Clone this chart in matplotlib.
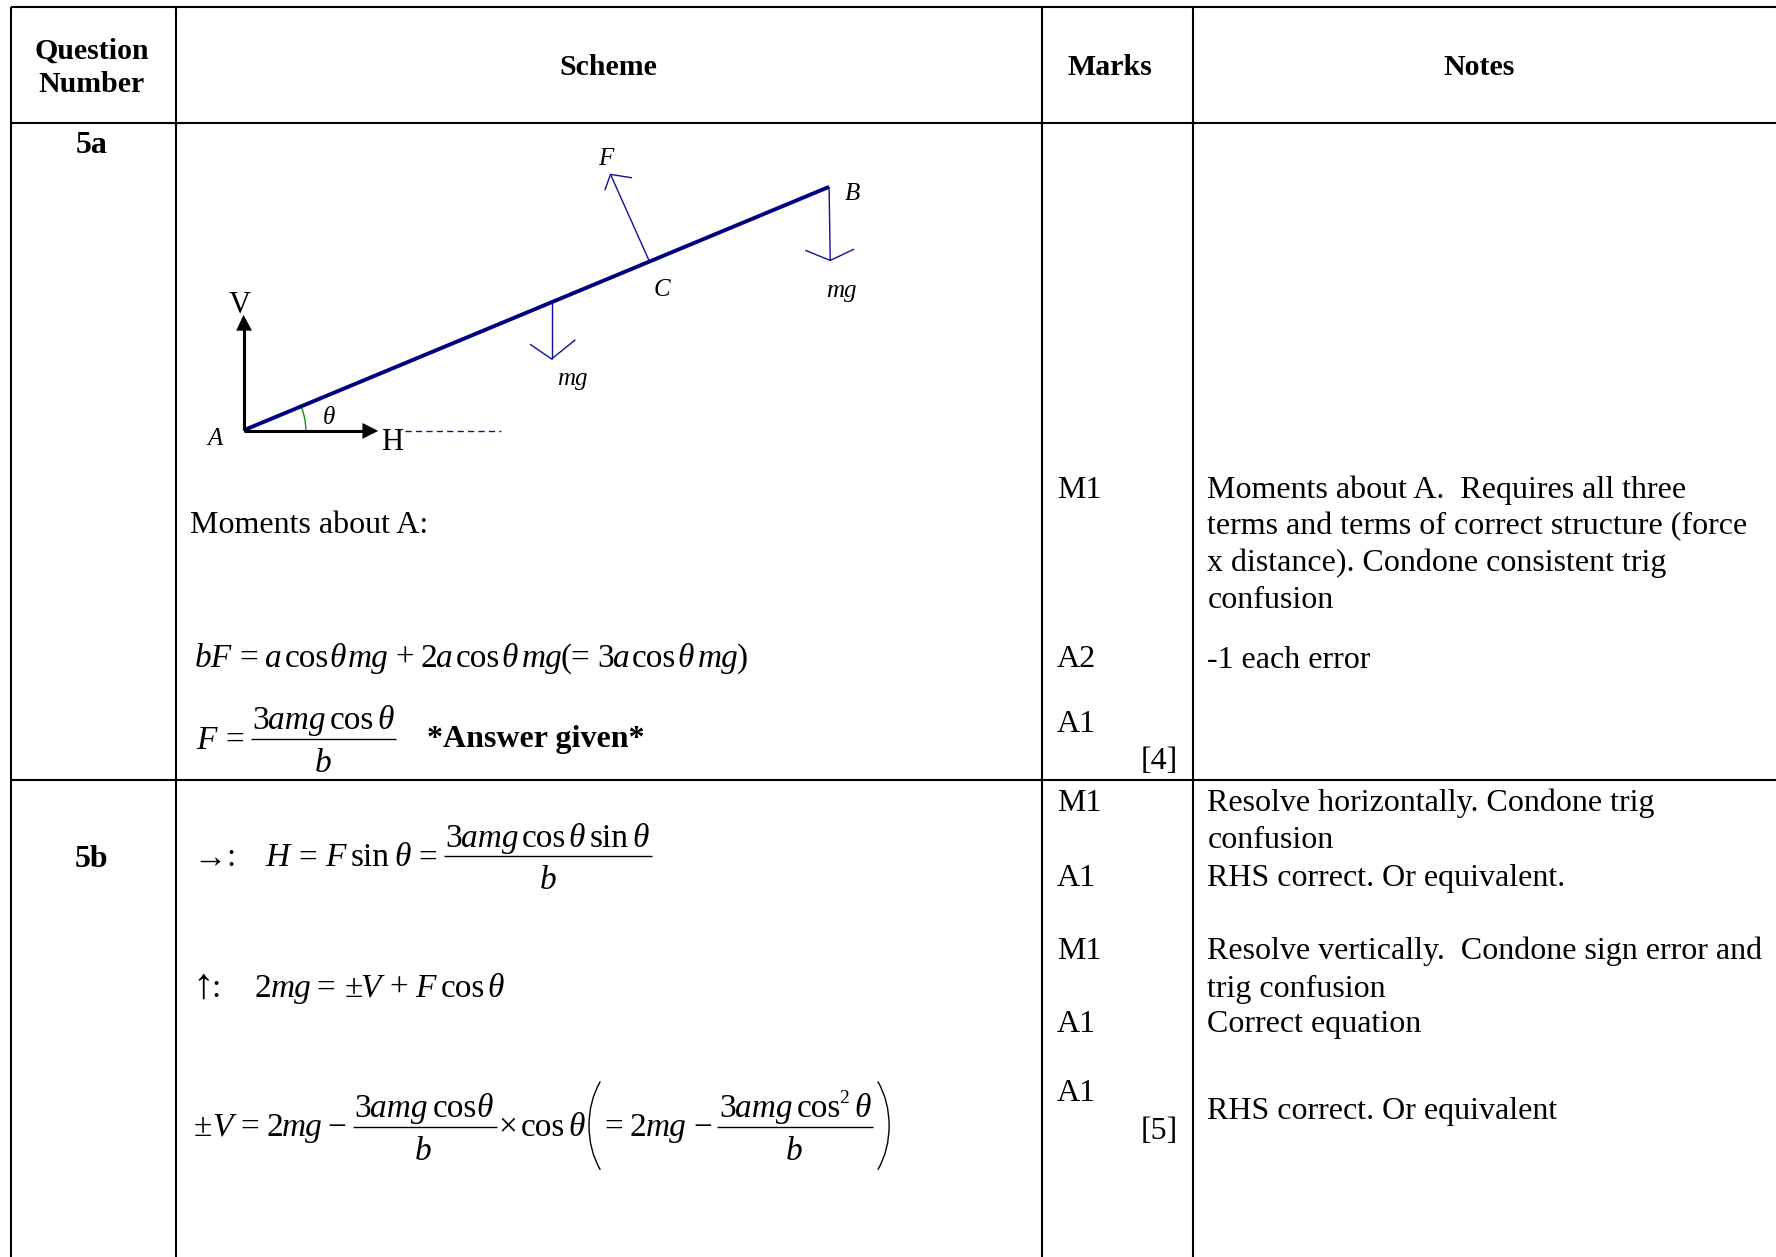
import matplotlib
matplotlib.use("Agg")
import matplotlib.pyplot as plt
from matplotlib.patches import PathPatch, Polygon, Arc
from matplotlib.path import Path

plt.rcParams['font.family'] = ['Liberation Serif', 'DejaVu Serif']

# ---- table content ----
headers = ["Question\nNumber", "Scheme", "Marks", "Notes"]
questions = ["5a", "5b"]
marks = ["M1", "A2", "A1", "M1", "A1", "M1", "A1", "A1"]
totals = ["[4]", "[5]"]
notes = ["Moments about A.  Requires all three",
         "terms and terms of correct structure (force",
         "x distance). Condone consistent trig",
         "confusion",
         "-1 each error",
         "Resolve horizontally. Condone trig",
         "confusion",
         "RHS correct. Or equivalent.",
         "Resolve vertically.  Condone sign error and",
         "trig confusion",
         "Correct equation",
         "RHS correct. Or equivalent"]
scheme_label = "Moments about A:"
answer_label = "*Answer given*"

# ---- layout (in 1568-wide reference units) ----
W, H = 1568, 1110
col_x = [10, 155, 920, 1053]
row_y = [6.5, 108.5, 688.5]
header_x = [81, 537, 980, 1306]
question_pos = [(81, 135), (81, 766)]
marks_y = [440, 589, 646, 716, 782, 847, 911, 972]
totals_y = [679, 1006]
notes_y = [440, 472, 504, 537, 590, 716, 749, 782, 847, 880, 911, 988]

# ---- diagram geometry ----
A, B = (215, 380), (732, 165)
F_arrow = [(573, 230), (539, 154)]
F_head = [(558, 157), (539, 154), (534, 168)]
mgB_arrow = [(732, 165), (733, 230)]
mgB_head = [(711, 221), (733, 230), (754, 220)]
mgM_arrow = [(487, 267), (487, 317)]
mgM_head = [(468, 304), (487, 317), (508, 300)]
V_arrow = [(215, 380), (215, 290)]
V_head = [(215, 278), (208.5, 292), (222.5, 292)]
H_arrow = [(215, 380.5), (322, 380.5)]
H_head = [(334, 380.5), (320, 373.5), (320, 387.5)]
dash_line = [(358, 381), (442, 381)]
diagram_labels = [("F", 535, 140), ("B", 753, 171), ("C", 584, 256),
                  ("mg", 743, 257), ("mg", 505, 335), ("A", 190, 388),
                  ("\u03b8", 290, 369)]
force_labels = [("V", 212, 270), ("H", 346, 391)]

# ---- equations: (x, token) per baseline ----
eq_force = [(172, "bF"), (211, "="), (234, "a"), (251, "cos"), (291, "\u03b8"), (307, "mg"),
            (349, "+"), (371, "2"), (385, "a"), (402, "cos"), (443, "\u03b8"), (461, "mg"),
            (495, "("), (504, "="), (527, "3"), (541, "a"), (558, "cos"), (598, "\u03b8"),
            (616, "mg"), (651, ")")]
eq_F = [(173, "F"), (199, "=")]
num_F = [(223, "3"), (237, "amg"), (291, "cos"), (333, "\u03b8")]
eq_H = [(171, "\u2192"), (199.5, ":"), (234, "H"), (263, "="), (287, "F"), (310, "sin"),
        (348, "\u03b8"), (369, "=")]
num_H = [(393, "3"), (407, "amg"), (461, "cos"), (502, "\u03b8"), (521, "sin"), (558, "\u03b8")]
eq_V = [(187, ":"), (225, "2"), (239, "mg"), (279, "="), (304, "\u00b1"),
        (318, "V"), (344, "+"), (367, "F"), (389, "cos"), (430, "\u03b8")]
eq_last = [(171, "\u00b1"), (187, "V"), (212, "="), (235, "2"), (249, "mg"), (289, "\u2212"),
           (440, "\u00d7"), (460, "cos"), (502, "\u03b8"), (534, "="), (556, "2"), (570, "mg"),
           (612, "\u2212")]
num_last1 = [(313, "3"), (327, "amg"), (382, "cos"), (421, "\u03b8")]
num_last2 = [(635, "3"), (649, "amg"), (703, "cos"), (754, "\u03b8")]
den_b = [(285, 682), (484, 785), (374, 1024), (701, 1024)]
bars = [(222, 350, 653), (392, 576, 756), (312, 439, 995), (633, 771, 995)]

ROMAN = {"cos", "sin", "=", "+", "\u2212", "\u00b1", "\u00d7", "(", ")", ":", "\u2192",
         "\u2191", "2", "3"}
NAVY = "#000080"
BLUE = "#10109a"

fig = plt.figure(figsize=(17.76, 12.57), dpi=100)
ax = fig.add_axes([0, 0, 1, 1])
ax.set_xlim(0, W)
ax.set_ylim(H, 0)
ax.axis("off")

# grid
LW = 1.5
for x in col_x:
    ax.plot([x, x], [row_y[0], H], color="black", lw=LW, solid_capstyle="butt")
for y in row_y:
    ax.plot([col_x[0], W], [y, y], color="black", lw=LW, solid_capstyle="butt")

FS = 23
HS = 21.5
for t, x in zip(headers, header_x):
    if "\n" in t:
        a, b = t.split("\n")
        ax.text(x, 52, a, ha="center", va="baseline", fontsize=HS, fontweight="bold")
        ax.text(x, 81, b, ha="center", va="baseline", fontsize=HS, fontweight="bold")
    else:
        ax.text(x, 66, t, ha="center", va="baseline", fontsize=HS, fontweight="bold")
for t, (x, y) in zip(questions, question_pos):
    ax.text(x, y, t, ha="center", va="baseline", fontsize=FS, fontweight="bold")
for t, y in zip(marks, marks_y):
    ax.text(933, y, t, ha="left", va="baseline", fontsize=FS)
for t, y in zip(totals, totals_y):
    ax.text(1040, y, t, ha="right", va="baseline", fontsize=FS)
for t, y in zip(notes, notes_y):
    ax.text(1066, y, t, ha="left", va="baseline", fontsize=FS)

ax.text(168, 471, scheme_label, ha="left", va="baseline", fontsize=FS)
ax.text(377, 660, answer_label, ha="left", va="baseline", fontsize=FS, fontweight="bold")

# diagram
def poly(pts, c, lw):
    ax.plot(*zip(*pts), color=c, lw=lw, solid_joinstyle="miter", solid_capstyle="butt")

poly([A, B], NAVY, 2.8)
for arrow, head in [(F_arrow, F_head), (mgB_arrow, mgB_head), (mgM_arrow, mgM_head)]:
    poly(arrow, BLUE, 1.0)
    poly(head, BLUE, 1.0)
poly(V_arrow, "black", 2.2)
poly(H_arrow, "black", 2.2)
ax.add_patch(Polygon(V_head, closed=True, color="black", lw=0))
ax.add_patch(Polygon(H_head, closed=True, color="black", lw=0))
ax.plot(*zip(*dash_line), color=BLUE, lw=1.0, ls=(0, (4.5, 3)))
ax.add_patch(Arc(A, 110, 110, theta1=-22.6, theta2=0, color="#109010", lw=1.0))
for t, x, y in diagram_labels:
    ax.text(x, y, t, ha="center", va="center", fontsize=18, fontstyle="italic")
for t, x, y in force_labels:
    ax.text(x, y, t, ha="center", va="center", fontsize=22)

# equations
EQ_FS = 24
def row(pieces, y):
    for x, s in pieces:
        style = "normal" if s in ROMAN else "italic"
        ax.text(x, y, s, ha="left", va="baseline", fontsize=EQ_FS, fontstyle=style)

def paren(x_in, x_out, y0, y1):
    ym = (y0 + y1) / 2
    p = Path([(x_in, y0), (x_out, y0 + (y1 - y0) * 0.22), (x_out, ym),
              (x_out, y1 - (y1 - y0) * 0.22), (x_in, y1)],
             [Path.MOVETO, Path.CURVE3, Path.CURVE3, Path.CURVE3, Path.CURVE3])
    ax.add_patch(PathPatch(p, fill=False, lw=1.0, color="black"))

row(eq_force, 589)
row(eq_F, 661)
row(num_F, 644)
row(eq_H, 765)
row(num_H, 748)
row(eq_V, 880)
ax.text(170, 881, "\u2191", ha="left", va="baseline", fontsize=31)
row(eq_last, 1003)
row(num_last1, 986)
row(num_last2, 986)
ax.text(741, 974, "2", ha="left", va="baseline", fontsize=14)
for x, y in den_b:
    ax.text(x, y, "b", ha="center", va="baseline", fontsize=EQ_FS, fontstyle="italic")
for x0, x1, y in bars:
    ax.plot([x0, x1], [y, y], color="black", lw=1.0, solid_capstyle="butt")
paren(530, 520, 955, 1033)
paren(775, 785, 955, 1033)

fig.savefig("out.png", dpi=100)
